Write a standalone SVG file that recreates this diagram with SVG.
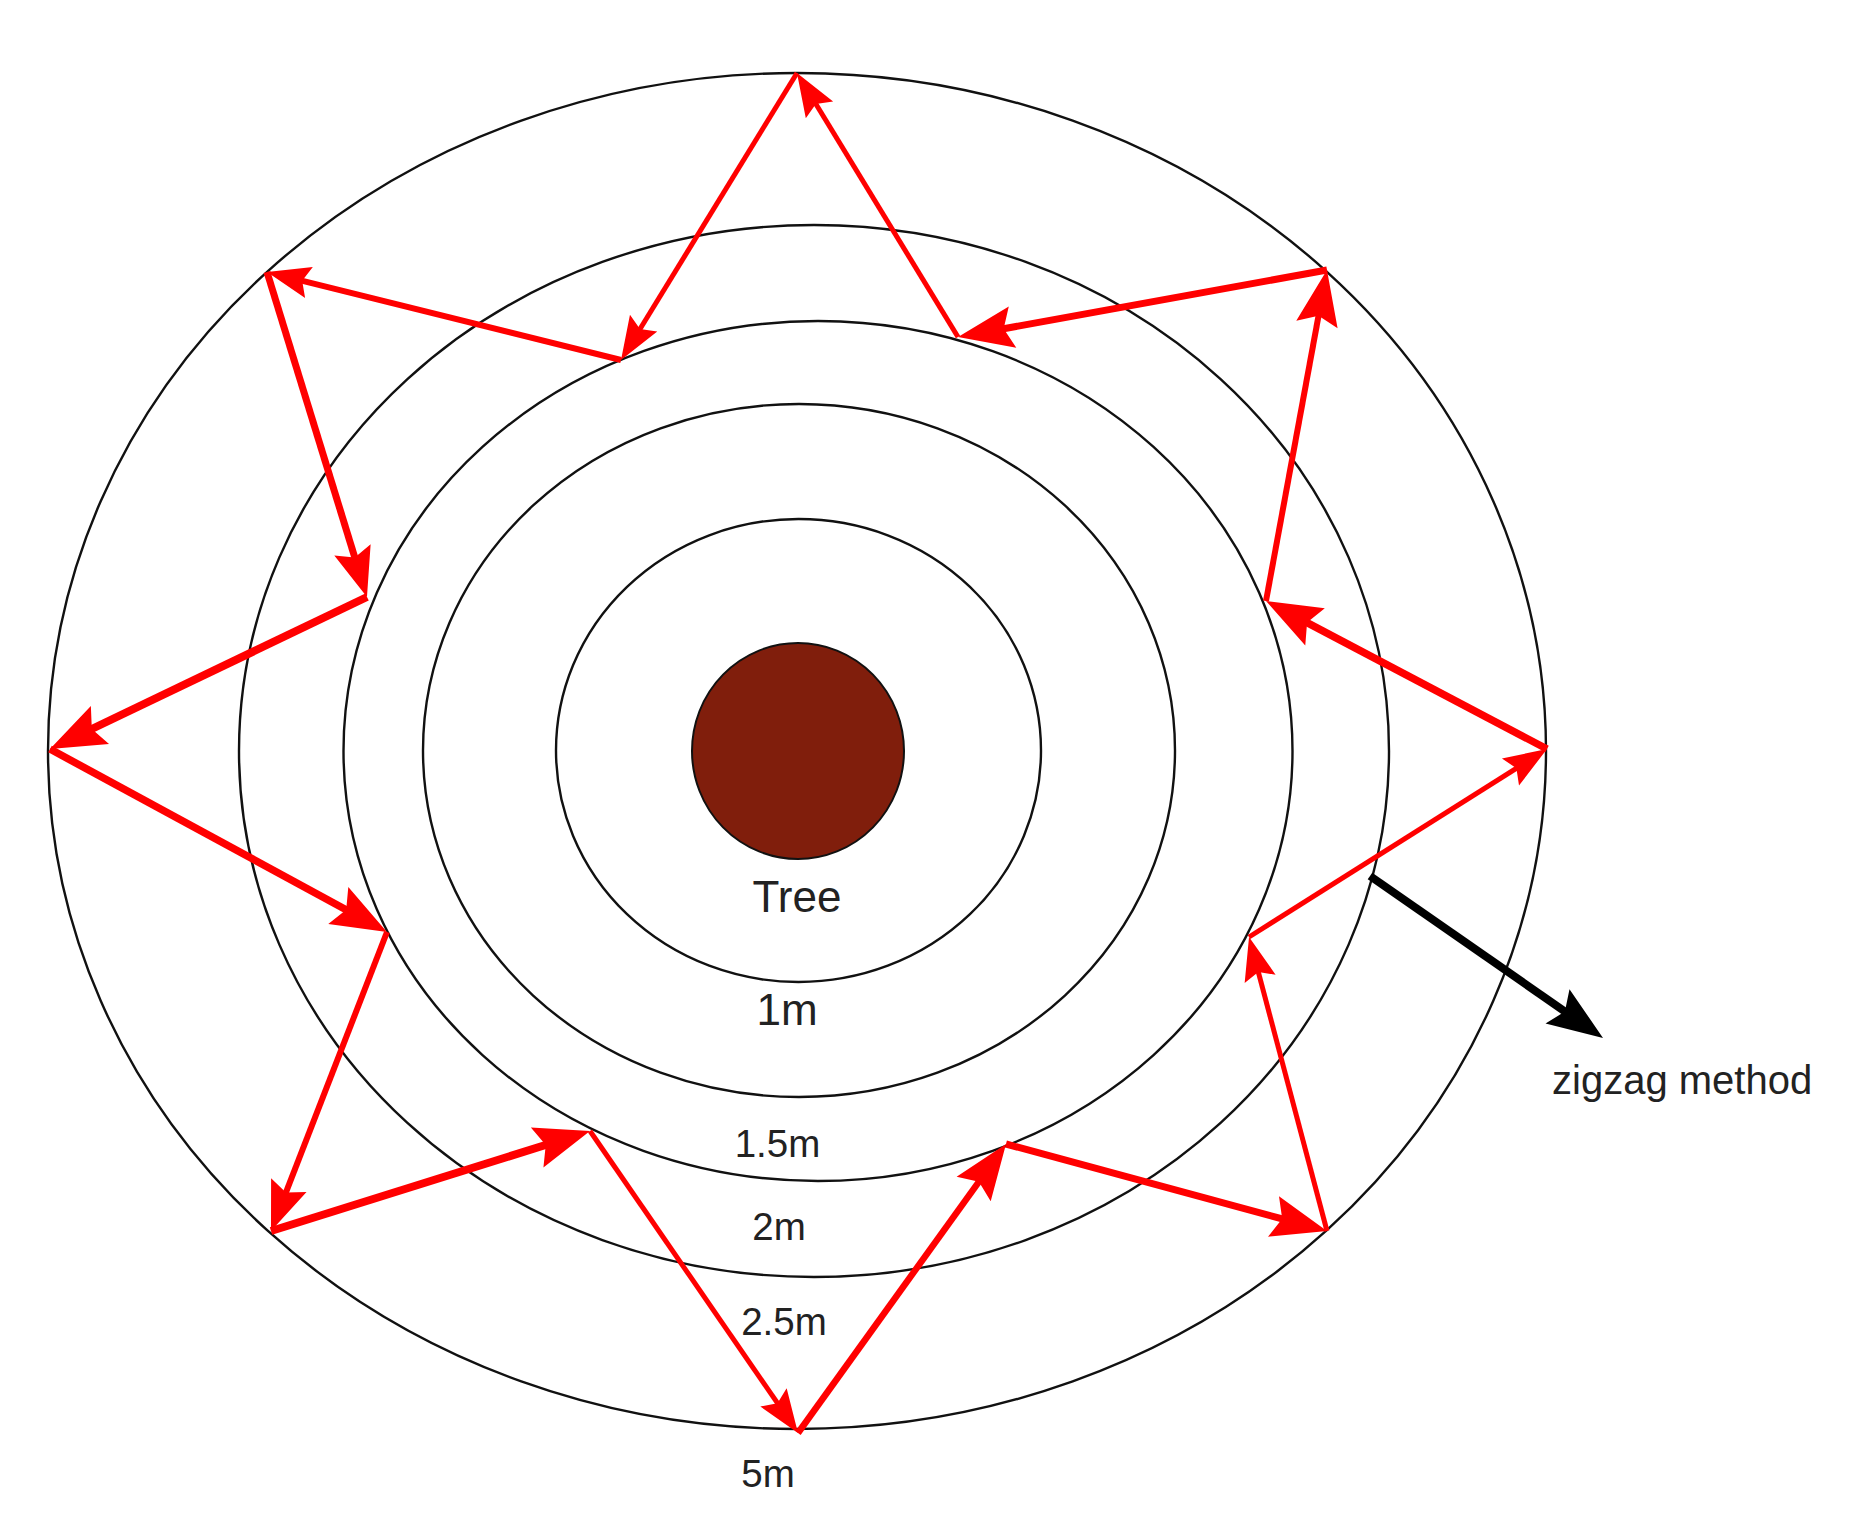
<svg xmlns="http://www.w3.org/2000/svg" width="1863" height="1536" viewBox="0 0 1863 1536">
<style>
.ring{fill:none;stroke:#111;stroke-width:2.4}
.lbl{font-family:"Liberation Sans",Arial,sans-serif;fill:#222;text-anchor:middle}
.red{fill:none;stroke:#ff0000;stroke-linecap:butt;stroke-linejoin:miter}
</style>
<defs>
<marker id="sm" markerUnits="userSpaceOnUse" markerWidth="80" markerHeight="80" refX="0" refY="0" orient="auto" overflow="visible">
<path d="M25.2,0 L-18,-16 L-11,0 L-18,16 Z" fill="#ff0000"/>
</marker>
<marker id="md" markerUnits="userSpaceOnUse" markerWidth="80" markerHeight="80" refX="0" refY="0" orient="auto" overflow="visible">
<path d="M28.8,0 L-20.5,-19 L-12.5,0 L-20.5,19 Z" fill="#ff0000"/>
</marker>
<marker id="lg" markerUnits="userSpaceOnUse" markerWidth="90" markerHeight="90" refX="0" refY="0" orient="auto" overflow="visible">
<path d="M32.4,0 L-23,-21 L-14,0 L-23,21 Z" fill="#ff0000"/>
</marker>
<marker id="bk" markerUnits="userSpaceOnUse" markerWidth="90" markerHeight="90" refX="0" refY="0" orient="auto" overflow="visible">
<path d="M32.4,0 L-23,-21 L-14,0 L-23,21 Z" fill="#000"/>
</marker>
</defs>
<rect width="1863" height="1536" fill="#fff"/>
<g id="rings">
<ellipse id="ring-5m" class="ring" cx="797" cy="751" rx="749" ry="678"/>
<ellipse id="ring-2_5m" class="ring" cx="814" cy="751" rx="575" ry="526"/>
<ellipse id="ring-2m" class="ring" cx="818" cy="751" rx="474.5" ry="430"/>
<ellipse id="ring-1_5m" class="ring" cx="799" cy="750.5" rx="376" ry="346.5"/>
<ellipse id="ring-1m" class="ring" cx="798.5" cy="750.5" rx="242.5" ry="231.5"/>
</g>
<g id="tree">
<ellipse cx="798" cy="751" rx="106" ry="108" fill="#801e0c" stroke="#111" stroke-width="2"/>
<text class="lbl" x="797" y="912" font-size="44">Tree</text>
</g>
<g id="labels">
<text class="lbl" x="787" y="1025" font-size="44">1m</text>
<text class="lbl" x="777.5" y="1157" font-size="38.5">1.5m</text>
<text class="lbl" x="779" y="1240" font-size="38.5">2m</text>
<text class="lbl" x="784" y="1335" font-size="38.5">2.5m</text>
<text class="lbl" x="768" y="1487" font-size="38.5">5m</text>
</g>
<g id="connectors">
<line class="red" x1="797" y1="73" x2="634.2" y2="338.5" stroke-width="5" marker-end="url(#sm)"/>
<line class="red" x1="621" y1="360" x2="291.5" y2="278.1" stroke-width="6" marker-end="url(#sm)"/>
<line class="red" x1="267" y1="272" x2="358.5" y2="569.5" stroke-width="7" marker-end="url(#md)"/>
<line class="red" x1="367" y1="597" x2="79.2" y2="735" stroke-width="8" marker-end="url(#lg)"/>
<line class="red" x1="50" y1="749" x2="358.5" y2="916.5" stroke-width="7.5" marker-end="url(#lg)"/>
<line class="red" x1="387" y1="932" x2="281.4" y2="1204.2" stroke-width="6" marker-end="url(#md)"/>
<line class="red" x1="271" y1="1231" x2="559.1" y2="1140.7" stroke-width="8" marker-end="url(#lg)"/>
<line class="red" x1="590" y1="1131" x2="783.7" y2="1412.2" stroke-width="5" marker-end="url(#sm)"/>
<line class="red" x1="798" y1="1433" x2="987.1" y2="1170.3" stroke-width="6.5" marker-end="url(#lg)"/>
<line class="red" x1="1006" y1="1144" x2="1295.7" y2="1222.5" stroke-width="7" marker-end="url(#lg)"/>
<line class="red" x1="1327" y1="1231" x2="1255.5" y2="961.4" stroke-width="5" marker-end="url(#sm)"/>
<line class="red" x1="1249" y1="937" x2="1525.7" y2="762.4" stroke-width="5" marker-end="url(#sm)"/>
<line class="red" x1="1547" y1="749" x2="1294.7" y2="616.1" stroke-width="7.5" marker-end="url(#lg)"/>
<line class="red" x1="1266" y1="601" x2="1321.1" y2="301.9" stroke-width="6" marker-end="url(#lg)"/>
<line class="red" x1="1327" y1="270" x2="989.9" y2="331.2" stroke-width="7" marker-end="url(#lg)"/>
<line class="red" x1="958" y1="337" x2="810.1" y2="94.5" stroke-width="5" marker-end="url(#sm)"/>
<line x1="1370" y1="876" x2="1576.4" y2="1019.5" stroke="#000" stroke-width="8" marker-end="url(#bk)"/>
</g>
<g id="zigzag-label">
<text x="1552" y="1094" font-size="40" font-family="'Liberation Sans',Arial,sans-serif" fill="#222">zigzag method</text>
</g>
</svg>
